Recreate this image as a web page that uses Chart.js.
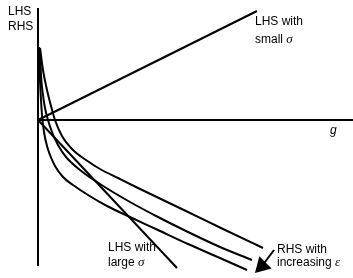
<!DOCTYPE html>
<html><head><meta charset="utf-8">
<script src="https://cdn.jsdelivr.net/npm/chart.js@4"></script>
<style>html,body{margin:0;padding:0;background:#fff}#wrap{width:353px;height:278px}</style>
</head><body><div id="wrap"><canvas id="c"></canvas></div>
<script>
// Values (x = g, y = LHS/RHS, origin at the axes crossing)
const axisVX = [0, 0];          const axisVY = [112, -146];
const axisHX = [0, 315];        const axisHY = [0, 0];
const lhsSmallX = [0, 219];     const lhsSmallY = [0, 109];
const lhsLargeX = [0, 139];     const lhsLargeY = [0, -148];
const rhs1X = [2, 5, 9, 13, 17, 24, 35, 48, 62, 80, 100, 125, 150, 185, 225];
const rhs1Y = [72, 50, 30, 14, 0, -16, -30, -40, -49, -58, -68, -80, -92, -109, -128];
const rhs2X = [2, 3, 5, 7, 10, 14, 20, 28, 42, 62, 92, 120, 150, 182, 214];
const rhs2Y = [72, 45, 25, 12, 0, -12, -25, -37, -50, -64, -82, -97, -112, -127, -140];
const rhs3X = [1, 2, 3, 4, 6, 9, 12, 17, 25, 35, 50, 69, 92, 120, 150, 182, 209];
const rhs3Y = [73, 40, 20, 5, -12, -26, -35, -46, -57, -65, -75, -86, -97, -110, -124, -138, -150];
const arrowX = [236, 224];      const arrowY = [-130, -146];
const labels = [
  {parts:[["LHS","n"]], x:-30, y:108},
  {parts:[["RHS","n"]], x:-30, y:93},
  {parts:[["LHS with","n"]], x:217, y:98},
  {parts:[["small ","n"],["σ","g"]], x:217, y:80},
  {parts:[["g","i"]], x:292, y:-11},
  {parts:[["LHS with","n"]], x:70, y:-128},
  {parts:[["large ","n"],["σ","g"]], x:70, y:-143},
  {parts:[["RHS with","n"]], x:239, y:-130},
  {parts:[["increasing ","n"],["ε","g"]], x:239, y:-143}
];

const pts = (xs, ys) => xs.map((x, i) => ({x, y: ys[i]}));
const lineDs = (xs, ys, extra) => Object.assign({
  data: pts(xs, ys), borderColor: '#000', backgroundColor: '#000', borderWidth: 2,
  pointRadius: 0, fill: false, tension: 0
}, extra || {});

const fonts = {
  n: '12px "Liberation Sans", Arial, sans-serif',
  i: 'italic 12px "Liberation Sans", Arial, sans-serif',
  g: 'italic 13px "Liberation Serif", "Times New Roman", serif'
};
const textPlugin = {
  id: 'texts',
  afterDatasetsDraw(chart) {
    const ctx = chart.ctx, sx = chart.scales.x, sy = chart.scales.y;
    ctx.save();
    ctx.fillStyle = '#000';
    ctx.textBaseline = 'middle';
    ctx.textAlign = 'left';
    labels.forEach(l => {
      let px = sx.getPixelForValue(l.x);
      const py = sy.getPixelForValue(l.y);
      l.parts.forEach(([t, f]) => {
        ctx.font = fonts[f];
        ctx.fillText(t, px, py);
        px += ctx.measureText(t).width;
      });
    });
    ctx.restore();
  }
};

new Chart(document.getElementById('c'), {
  type: 'line',
  data: {
    datasets: [
      lineDs(axisVX, axisVY),
      lineDs(axisHX, axisHY),
      lineDs(lhsSmallX, lhsSmallY),
      lineDs(lhsLargeX, lhsLargeY),
      lineDs(rhs1X, rhs1Y, {cubicInterpolationMode: 'monotone'}),
      lineDs(rhs2X, rhs2Y, {cubicInterpolationMode: 'monotone'}),
      lineDs(rhs3X, rhs3Y, {cubicInterpolationMode: 'monotone'}),
      lineDs(arrowX, arrowY, {pointRadius: [0, 10], pointStyle: 'triangle', rotation: 225,
        pointBorderWidth: 0, pointBackgroundColor: '#000'})
    ]
  },
  options: {
    responsive: true, maintainAspectRatio: false, animation: false,
    layout: {padding: 0, autoPadding: false},
    plugins: {legend: {display: false}, tooltip: {enabled: false}},
    scales: {
      x: {type: 'linear', min: -38, max: 315, display: false},
      y: {type: 'linear', min: -158, max: 120, display: false}
    }
  },
  plugins: [textPlugin]
});
</script></body></html>
